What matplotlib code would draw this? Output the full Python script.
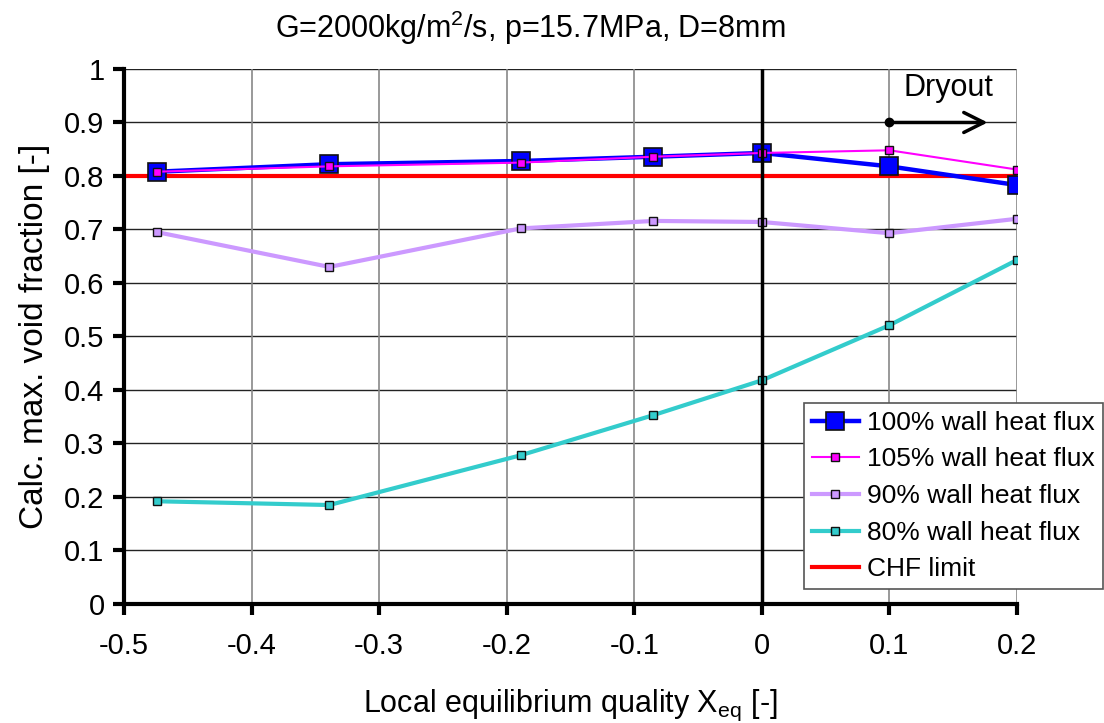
import matplotlib
matplotlib.use('Agg')
import matplotlib.pyplot as plt

plt.rcParams['font.family'] = ['Liberation Sans', 'DejaVu Sans']

# local equilibrium quality at each calculation point
x_eq = [-0.474, -0.339, -0.189, -0.085, 0.0, 0.1, 0.2]

void_100 = [0.808, 0.822, 0.828, 0.836, 0.843, 0.818, 0.783]
void_105 = [0.808, 0.818, 0.825, 0.836, 0.843, 0.848, 0.812]
void_90 = [0.695, 0.630, 0.702, 0.716, 0.714, 0.693, 0.720]
void_80 = [0.192, 0.185, 0.278, 0.353, 0.418, 0.521, 0.643]
chf_limit = 0.8

series_labels = ['100% wall heat flux', '105% wall heat flux',
                 '90% wall heat flux', '80% wall heat flux', 'CHF limit']

x_ticks = [-0.5, -0.4, -0.3, -0.2, -0.1, 0, 0.1, 0.2]
x_tick_labels = ['-0.5', '-0.4', '-0.3', '-0.2', '-0.1', '0', '0.1', '0.2']
y_ticks = [0, 0.1, 0.2, 0.3, 0.4, 0.5, 0.6, 0.7, 0.8, 0.9, 1]
y_tick_labels = ['0', '0.1', '0.2', '0.3', '0.4', '0.5', '0.6', '0.7', '0.8', '0.9', '1']

dryout_start = 0.1
dryout_end = 0.177
dryout_level = 0.9

fig = plt.figure(figsize=(11.04, 7.23), dpi=100)
ax = fig.add_axes([0.1123, 0.1646, 0.8089, 0.74])

ax.set_xlim(-0.5, 0.2)
ax.set_ylim(0, 1)

# grid: dark horizontal lines, gray vertical lines
for y in y_ticks[1:]:
    ax.axhline(y, color='#222222', lw=1.0, zorder=1)
for x in x_ticks[1:]:
    ax.axvline(x, color='#888888', lw=1.2, zorder=1)

ax.axhline(chf_limit, color='#ff0000', lw=3, zorder=2, label=series_labels[4])
ax.plot(x_eq, void_100, color='#0000ff', lw=3.2, marker='s', ms=13,
        mfc='#0000ff', mec='#111111', mew=1.2, zorder=3, label=series_labels[0])
ax.plot(x_eq, void_105, color='#ff00ff', lw=1.5, marker='s', ms=6,
        mfc='#ff00ff', mec='#111111', mew=1.0, zorder=4, label=series_labels[1])
ax.plot(x_eq, void_90, color='#cc99ff', lw=3, marker='s', ms=6,
        mfc='#cc99ff', mec='#111111', mew=1.0, zorder=3, label=series_labels[2])
ax.plot(x_eq, void_80, color='#33cccc', lw=3, marker='s', ms=6,
        mfc='#33cccc', mec='#111111', mew=1.0, zorder=3, label=series_labels[3])

ax.axvline(0, color='black', lw=2.5, zorder=5)

# dryout marker
ax.plot([dryout_start], [dryout_level], 'o', color='black', ms=6, zorder=6)
ax.annotate('', xy=(dryout_end, dryout_level), xytext=(dryout_start, dryout_level),
            arrowprops=dict(arrowstyle='->', color='black', lw=2.5,
                            mutation_scale=36, shrinkA=0, shrinkB=0), zorder=6)
ax.text(0.146, 0.964, 'Dryout', fontsize=22, ha='center', va='center',
        bbox=dict(facecolor='white', edgecolor='none', pad=1), zorder=6, clip_on=False)

for side in ['top', 'right']:
    ax.spines[side].set_visible(False)
for side in ['left', 'bottom']:
    ax.spines[side].set_linewidth(3)
    ax.spines[side].set_zorder(7)

ax.set_xticks(x_ticks)
ax.set_xticklabels(x_tick_labels)
ax.set_yticks(y_ticks)
ax.set_yticklabels(y_tick_labels)
ax.tick_params(axis='both', direction='out', length=8, width=3, labelsize=21)
ax.tick_params(axis='x', pad=12)
ax.tick_params(axis='y', pad=6)

ax.set_xlabel('Local equilibrium quality X$_{\\mathregular{eq}}$ [-]', fontsize=22, labelpad=20)
ax.set_ylabel('Calc. max. void fraction [-]', fontsize=24, labelpad=10)
fig.text(0.48, 0.962, 'G=2000kg/m$^{\\mathregular{2}}$/s, p=15.7MPa, D=8mm',
         fontsize=22, ha='center', va='center')

handles, labels = ax.get_legend_handles_labels()
order = [1, 2, 3, 4, 0]
leg = ax.legend([handles[i] for i in order], [labels[i] for i in order],
                loc='lower right', bbox_to_anchor=(1.0, 0.183), bbox_transform=fig.transFigure,
                fontsize=19, frameon=True, fancybox=False, framealpha=1,
                edgecolor='#555555', handlelength=1.8, borderpad=0.3, labelspacing=0.48,
                handletextpad=0.3, borderaxespad=0.05)
leg.get_frame().set_linewidth(1.2)
leg.set_zorder(10)

fig.savefig('out.png', dpi=100)
